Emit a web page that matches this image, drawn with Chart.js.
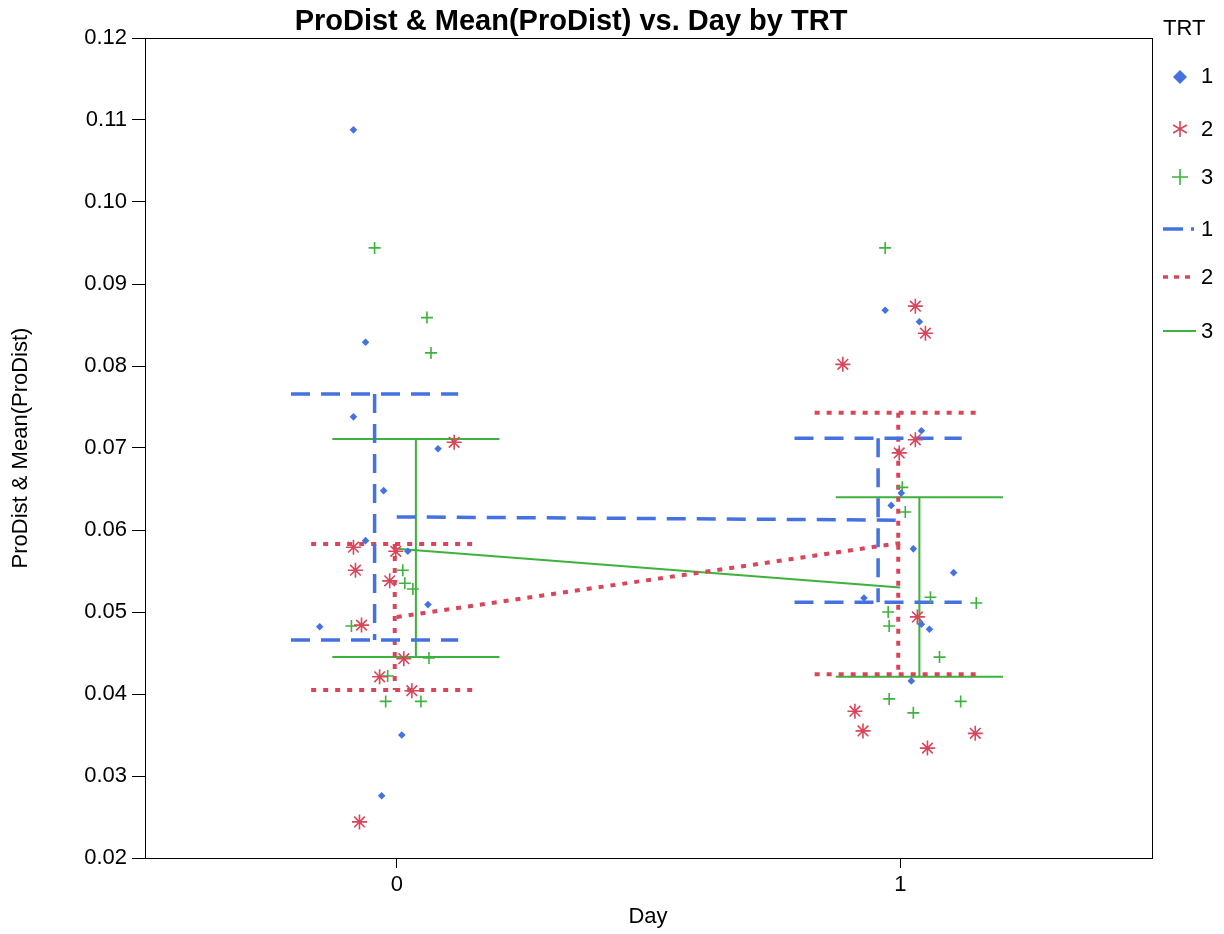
<!DOCTYPE html>
<html>
<head>
<meta charset="utf-8">
<script src="https://cdn.jsdelivr.net/npm/chart.js@4.4.1/dist/chart.umd.min.js"></script>
<style>
  html, body { margin: 0; padding: 0; background: #fff; }
  #wrap { width: 1224px; height: 934px; }
</style>
</head>
<body>
<div id="wrap"><canvas id="myChart" width="1224" height="934"></canvas></div>
<script>
// Day + jitter and ProDist for each TRT
const trt1X = [-0.086, -0.062, -0.086, 0.082, -0.026, -0.062, 0.022, 0.062, -0.153, 0.010, -0.030,
               0.970, 1.038, 1.042, 1.002, 0.982, 1.026, 1.106, 0.928, 1.042, 1.058, 1.022];
const trt1Y = [0.1088, 0.0829, 0.0738, 0.0699, 0.0648, 0.0587, 0.0574, 0.0509, 0.0482, 0.0350, 0.0276,
               0.0868, 0.0854, 0.0721, 0.0645, 0.0630, 0.0577, 0.0548, 0.0517, 0.0485, 0.0479, 0.0416];
const trt2X = [0.114, -0.086, -0.002, -0.082, -0.014, -0.070, 0.014, -0.034, 0.030, -0.074,
               0.886, 1.030, 1.050, 1.030, 0.998, 1.034, 0.910, 0.926, 1.149, 1.054];
const trt2Y = [0.0707, 0.0579, 0.0574, 0.0551, 0.0538, 0.0484, 0.0443, 0.0421, 0.0404, 0.0244,
               0.0802, 0.0873, 0.0840, 0.0710, 0.0694, 0.0494, 0.0379, 0.0355, 0.0352, 0.0334];
const trt3X = [-0.044, 0.060, 0.068, 0.012, 0.016, 0.032, -0.090, 0.064, -0.018, -0.022, 0.048,
               0.970, 1.004, 1.010, 1.060, 1.151, 0.976, 0.978, 1.078, 0.978, 1.120, 1.026];
const trt3Y = [0.0944, 0.0859, 0.0816, 0.0551, 0.0535, 0.0528, 0.0483, 0.0444, 0.0422, 0.0391, 0.0391,
               0.0944, 0.0652, 0.0622, 0.0518, 0.0511, 0.0500, 0.0483, 0.0445, 0.0394, 0.0391, 0.0377];

// mean and interval per day (day 0, day 1)
const days = [0, 1];
const trt1Mean = [0.0616, 0.0612];
const trt1Lo = [0.0466, 0.0512];
const trt1Hi = [0.0766, 0.0712];
const trt2Mean = [0.0494, 0.0584];
const trt2Lo = [0.0405, 0.0424];
const trt2Hi = [0.0583, 0.0743];
const trt3Mean = [0.0577, 0.0530];
const trt3Lo = [0.0445, 0.0421];
const trt3Hi = [0.0711, 0.0640];

const yTicks = [0.02, 0.03, 0.04, 0.05, 0.06, 0.07, 0.08, 0.09, 0.10, 0.11, 0.12];
const xTicks = [0, 1];

const BLUE = '#4472E0';
const RED = '#D8465A';
const GREEN = '#3DB23D';
const FONT = '"Liberation Sans", Arial, sans-serif';
const CAP = 0.166;

function pts(xs, ys) {
    return xs.map((x, i) => ({ x: x, y: ys[i] }));
}

function meanLine(means) {
    return days.map((d, i) => ({ x: d, y: means[i] }));
}

function errorBars(lo, hi, off) {
    const out = [];
    days.forEach((d, i) => {
        const c = d + off;
        out.push({ x: c - CAP, y: hi[i] }, { x: c + CAP, y: hi[i] }, { x: c, y: null });
        out.push({ x: c, y: hi[i] }, { x: c, y: lo[i] }, { x: c, y: null });
        out.push({ x: c - CAP, y: lo[i] }, { x: c + CAP, y: lo[i] }, { x: c, y: null });
    });
    return out;
}

function lineSet(data, color, width, dash) {
    return {
        type: 'line', data: data, borderColor: color, borderWidth: width,
        borderDash: dash, pointRadius: 0, fill: false, spanGaps: false,
        tension: 0, order: 2
    };
}

const chrome = {
    id: 'chrome',
    afterDraw(chart) {
        const ctx = chart.ctx;
        const a = chart.chartArea;
        ctx.save();
        ctx.strokeStyle = '#000';
        ctx.lineWidth = 1;
        ctx.strokeRect(a.left + 0.5, a.top + 0.5, a.right - a.left, a.bottom - a.top);

        ctx.fillStyle = '#000';
        ctx.font = 'bold 29px ' + FONT;
        ctx.textAlign = 'center';
        ctx.textBaseline = 'middle';
        ctx.fillText('ProDist & Mean(ProDist) vs. Day by TRT', 571, 22);

        ctx.font = '22px ' + FONT;
        ctx.fillText('Day', 648, 917);
        ctx.save();
        ctx.translate(21, 448);
        ctx.rotate(-Math.PI / 2);
        ctx.fillText('ProDist & Mean(ProDist)', 0, 0);
        ctx.restore();

        // legend
        ctx.textAlign = 'left';
        ctx.fillText('TRT', 1163, 29);
        ['1', '2', '3', '1', '2', '3'].forEach((t, i) => {
            const ly = [77, 130, 178, 230, 278, 332][i];
            ctx.fillStyle = '#000';
            ctx.fillText(t, 1201, ly);
        });
        // diamond
        ctx.fillStyle = BLUE;
        ctx.beginPath();
        ctx.moveTo(1180, 70); ctx.lineTo(1187, 77); ctx.lineTo(1180, 84); ctx.lineTo(1173, 77);
        ctx.closePath(); ctx.fill();
        // asterisk
        ctx.strokeStyle = RED; ctx.lineWidth = 1.6;
        ctx.beginPath();
        for (let k = 0; k < 3; k++) {
            const ang = Math.PI / 2 + k * Math.PI / 3;
            ctx.moveTo(1180 + 8 * Math.cos(ang), 129 + 8 * Math.sin(ang));
            ctx.lineTo(1180 - 8 * Math.cos(ang), 129 - 8 * Math.sin(ang));
        }
        ctx.stroke();
        // plus
        ctx.strokeStyle = GREEN;
        ctx.beginPath();
        ctx.moveTo(1172, 177); ctx.lineTo(1188, 177);
        ctx.moveTo(1180, 169); ctx.lineTo(1180, 185);
        ctx.stroke();
        // lines
        ctx.lineWidth = 3.5;
        ctx.strokeStyle = BLUE;
        ctx.beginPath(); ctx.moveTo(1163, 229); ctx.lineTo(1183, 229); ctx.stroke();
        ctx.beginPath(); ctx.moveTo(1191, 229); ctx.lineTo(1194, 229); ctx.stroke();
        ctx.strokeStyle = RED;
        ctx.setLineDash([5, 6]);
        ctx.beginPath(); ctx.moveTo(1163, 277); ctx.lineTo(1196, 277); ctx.stroke();
        ctx.setLineDash([]);
        ctx.strokeStyle = GREEN; ctx.lineWidth = 2;
        ctx.beginPath(); ctx.moveTo(1163, 331); ctx.lineTo(1196, 331); ctx.stroke();
        ctx.restore();
    }
};

const ctx = document.getElementById('myChart');

new Chart(ctx, {
    type: 'scatter',
    data: {
        datasets: [
            { data: pts(trt1X, trt1Y), backgroundColor: BLUE, borderColor: BLUE, pointStyle: 'rectRot', pointRadius: 3.8, borderWidth: 0, order: 1 },
            { data: pts(trt2X, trt2Y), backgroundColor: RED, borderColor: RED, pointStyle: 'star', pointRadius: 7.5, borderWidth: 1.6, order: 1 },
            { data: pts(trt3X, trt3Y), backgroundColor: GREEN, borderColor: GREEN, pointStyle: 'cross', pointRadius: 6, borderWidth: 1.6, order: 1 },
            lineSet(meanLine(trt1Mean), BLUE, 3.5, [19, 11]),
            lineSet(errorBars(trt1Lo, trt1Hi, -0.044), BLUE, 3.5, [19, 11]),
            lineSet(meanLine(trt2Mean), RED, 4, [5, 7]),
            lineSet(errorBars(trt2Lo, trt2Hi, -0.004), RED, 4, [5, 7]),
            lineSet(meanLine(trt3Mean), GREEN, 2, []),
            lineSet(errorBars(trt3Lo, trt3Hi, 0.038), GREEN, 2, [])
        ]
    },
    options: {
        responsive: false,
        animation: false,
        layout: { padding: { top: 38, right: 72, left: 0, bottom: 0 } },
        plugins: {
            legend: { display: false },
            tooltip: { enabled: false },
            title: { display: false }
        },
        scales: {
            x: {
                type: 'linear',
                min: -0.5,
                max: 1.5,
                afterBuildTicks: (s) => { s.ticks = xTicks.map(v => ({ value: v })); },
                afterFit: (s) => { s.height = 76; },
                grid: { display: true, drawOnChartArea: false, drawTicks: true, tickLength: 10, color: '#000' },
                border: { display: true, color: '#000', width: 1 },
                ticks: { color: '#000', font: { family: FONT, size: 22 }, padding: 4 }
            },
            y: {
                type: 'linear',
                min: 0.02,
                max: 0.12,
                afterBuildTicks: (s) => { s.ticks = yTicks.map(v => ({ value: v })); },
                afterFit: (s) => { s.width = 145; },
                grid: { display: true, drawOnChartArea: false, drawTicks: true, tickLength: 13, color: '#000' },
                border: { display: true, color: '#000', width: 1 },
                ticks: { color: '#000', font: { family: FONT, size: 22 }, padding: 5, callback: (v) => v.toFixed(2) }
            }
        }
    },
    plugins: [chrome]
});
</script>
</body>
</html>
